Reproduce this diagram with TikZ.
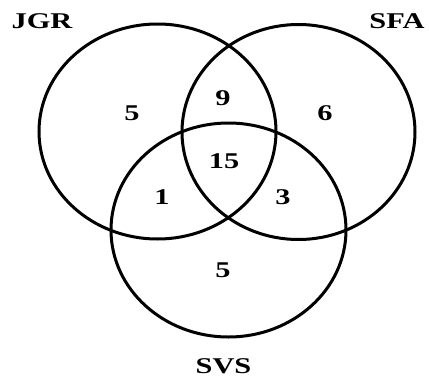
\documentclass[tikz,border=0pt]{standalone}
\usepackage{fontspec}
\setmainfont{Liberation Serif}
\begin{document}
\begin{tikzpicture}[x=1pt,y=-1pt,
  ring/.style={draw=black,line width=3pt},
  lbl/.style={inner sep=0pt,anchor=base,font=\fontsize{22.5}{24}\selectfont\bfseries}]
\useasboundingbox (0,0) rectangle (429,383);
\draw[ring] (157.5,131.5) ellipse [x radius=118.5, y radius=107.5];
\draw[ring] (298.5,132) ellipse [x radius=116.5, y radius=107.5];
\draw[ring] (228.5,230) ellipse [x radius=117.5, y radius=107];
\node[lbl] (jgr) at (42,28) {\scalebox{1.35}[1]{JGR}};
\node[lbl] (sfa) at (397,28.5) {\scalebox{1.35}[1]{SFA}};
\node[lbl] (svs) at (223.5,373) {\scalebox{1.35}[1]{SVS}};
\node[lbl] (a) at (132,120.5) {\scalebox{1.35}[1]{5}};
\node[lbl] (ab) at (223,105.5) {\scalebox{1.35}[1]{9}};
\node[lbl] (b) at (325,120.5) {\scalebox{1.35}[1]{6}};
\node[lbl] (abc) at (224,168.5) {\scalebox{1.35}[1]{15}};
\node[lbl] (ac) at (162,204.5) {\scalebox{1.35}[1]{1}};
\node[lbl] (bc) at (283,204.5) {\scalebox{1.35}[1]{3}};
\node[lbl] (c) at (223,277.5) {\scalebox{1.35}[1]{5}};
\end{tikzpicture}
\end{document}
